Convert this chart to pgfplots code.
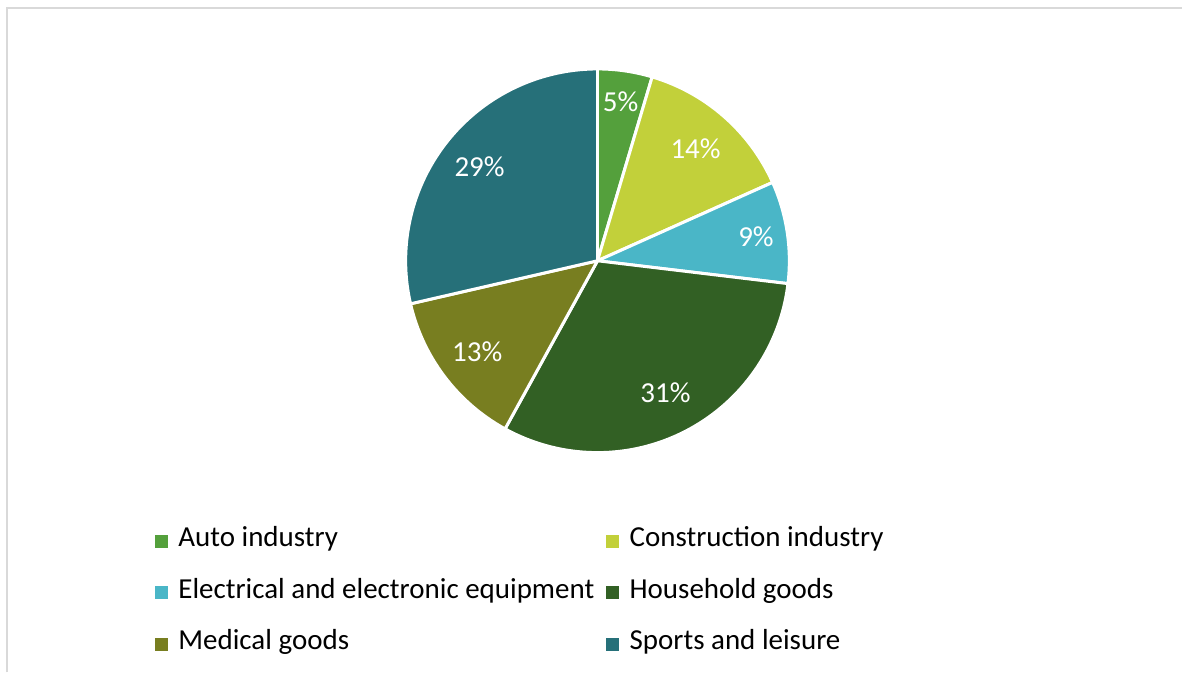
\documentclass[border=0pt]{standalone}
\usepackage{pgfplots}
\usepackage{pgfplotstable}
\pgfplotsset{compat=1.18}
\usepackage{fontspec}
\setmainfont{Carlito}

\definecolor{cAuto}{HTML}{54A03C}
\definecolor{cCons}{HTML}{C2D03A}
\definecolor{cElec}{HTML}{4AB6C7}
\definecolor{cHouse}{HTML}{326024}
\definecolor{cMed}{HTML}{787E20}
\definecolor{cSport}{HTML}{267079}
\definecolor{frame}{HTML}{D9D9D9}

\newcommand\labelfont{\fontsize{29bp}{34bp}\selectfont}

% share in percent, slice colour, label distance (fraction of radius)
\pgfplotstableread[col sep=comma]{
value,color,lr
4.6,cAuto,0.84
13.7,cCons,0.78
8.6,cElec,0.84
31.1,cHouse,0.78
13.4,cMed,0.79
28.6,cSport,0.79
}\piedata

\begin{document}
\begin{tikzpicture}
\begin{axis}[
    width=1183bp, height=673bp, scale only axis,
    xmin=0, xmax=1183, ymin=0, ymax=673,
    hide axis, clip=false,
    legend columns=2,
    legend cell align=left,
    legend image code/.code={\fill[#1] (0bp,-19bp) rectangle (12bp,-7bp);},
    legend style={
        draw=none, fill=none, inner sep=0pt,
        at={(axis description cs:0.131,0.253)}, anchor=north west,
        font=\labelfont,
        nodes={inner sep=0pt, text height=44.25bp, text depth=7.25bp},
        /tikz/every odd column/.append style={column sep=11bp},
        /tikz/every even column/.append style={column sep=12bp},
    },
]
\path (axis cs:0,0) rectangle (axis cs:1183,673);
\draw[frame, line width=2bp] (axis cs:7,0) -- (axis cs:7,665) -- (axis cs:1183,665);

\pgfplotstablegetrowsof{\piedata}
\pgfmathtruncatemacro\N{\pgfplotsretval-1}
\def\cum{0}
\pgfplotsforeachungrouped \i in {0,...,\N}{
    \pgfplotstablegetelem{\i}{value}\of\piedata \let\v\pgfplotsretval
    \pgfplotstablegetelem{\i}{color}\of\piedata \let\c\pgfplotsretval
    \pgfplotstablegetelem{\i}{lr}\of\piedata \let\lr\pgfplotsretval
    \pgfmathsetmacro\a{90-3.6*\cum}
    \pgfmathsetmacro\b{90-3.6*(\cum+\v)}
    \pgfmathsetmacro\m{(\a+\b)/2}
    \pgfmathsetmacro\lx{598+191*\lr*cos(\m)}
    \pgfmathsetmacro\ly{412+191*\lr*sin(\m)}
    \pgfmathtruncatemacro\pct{round(\v)}
    \edef\temp{%
        \noexpand\fill[\c, draw=white, line width=3bp, line join=round]
            (axis cs:598,412) -- ++(\a:192bp) arc[start angle=\a, end angle=\b, radius=192bp] -- cycle;
        \noexpand\node[white, font=\noexpand\labelfont] at (axis cs:\lx,\ly) {\pct\noexpand\%};
    }
    \temp
    \pgfmathsetmacro\cum{\cum+\v}
}

\addlegendimage{cAuto}
\addlegendimage{cCons}
\addlegendimage{cElec}
\addlegendimage{cHouse}
\addlegendimage{cMed}
\addlegendimage{cSport}
\legend{Auto industry, Construction industry, Electrical and electronic equipment, Household goods, Medical goods, Sports and leisure}
\end{axis}
\end{tikzpicture}
\end{document}
